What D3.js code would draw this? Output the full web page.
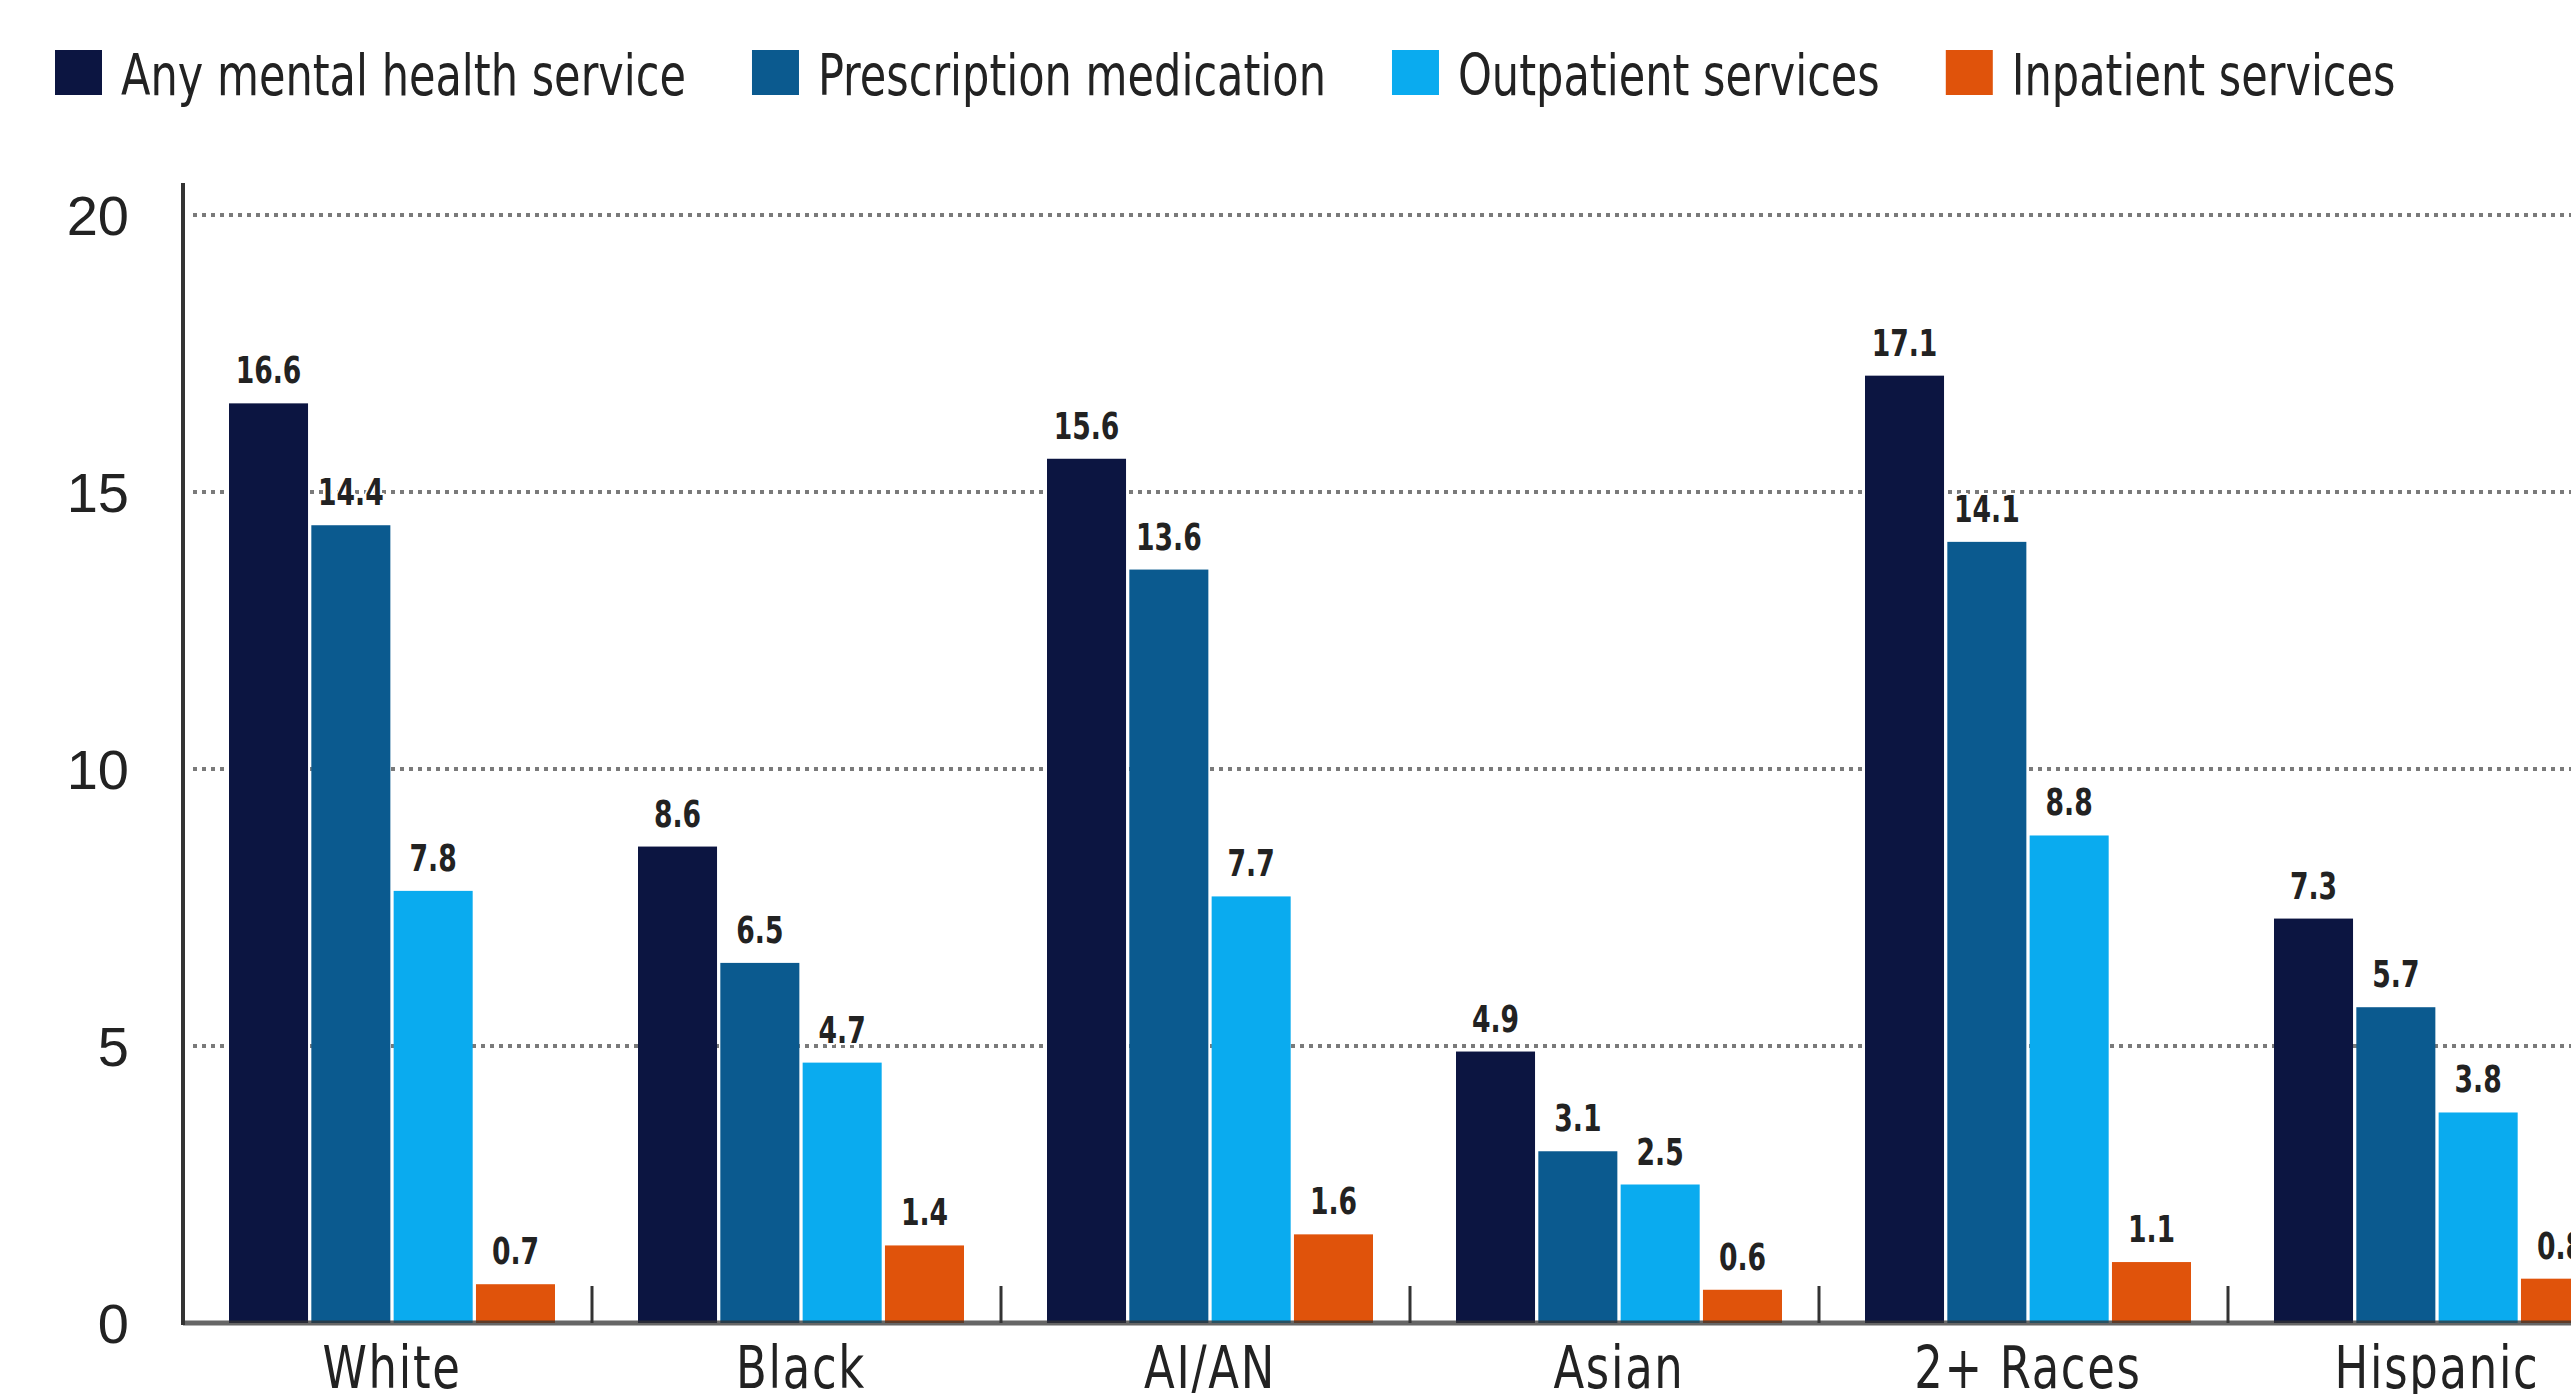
<!DOCTYPE html>
<head>
<script src="https://d3js.org/d3.v7.min.js"></script>
<meta charset="utf-8">
<style>
body { margin: 0; background: #fff; }
svg { display: block; overflow: hidden; }
text { fill: #222; }
</style>
</head>
<body>
<svg id="chart"></svg>
<script>

// data
var groups = ["White", "Black", "AI/AN", "Asian", "2+ Races", "Hispanic"];
var series = ["Any mental health service", "Prescription medication", "Outpatient services", "Inpatient services"];
var anyService   = [16.6, 8.6, 15.6, 4.9, 17.1, 7.3];
var prescription = [14.4, 6.5, 13.6, 3.1, 14.1, 5.7];
var outpatient   = [7.8, 4.7, 7.7, 2.5, 8.8, 3.8];
var inpatient    = [0.7, 1.4, 1.6, 0.6, 1.1, 0.8];
var yTicks = [0, 5, 10, 15, 20];
var colors = ["#0c1541", "#0b5a8f", "#0aabef", "#e0530b"];

var values = [anyService, prescription, outpatient, inpatient];

// chart parameters
var width = 2571,
    height = 1394,
    axisX = 183,
    baseY = 1323,
    topY = 215,
    band = 409,
    squeeze = 0.84;   // the original font is narrower than anything installed

var narrow = "'Liberation Sans Narrow', 'DejaVu Sans Condensed', 'Liberation Sans', sans-serif";

var svg = d3.select("#chart")
    .attr("width", width)
    .attr("height", height);

// squeeze a text sideways, keeping its height
function condense(sel, k) {
    sel.each(function() {
        var w = this.getComputedTextLength();
        d3.select(this)
            .attr("textLength", w * k)
            .attr("lengthAdjust", "spacingAndGlyphs");
    });
}

var y = d3.scaleLinear().domain([0, 20]).range([baseY, topY]);
var x0 = d3.scaleBand().domain(groups).range([axisX, axisX + band * groups.length]);
var x1 = d3.scaleBand().domain(series).range([46, 372]).paddingInner(0.04);
var color = d3.scaleOrdinal().domain(series).range(colors);

// dotted gridlines
svg.append("g")
  .selectAll("line")
  .data(yTicks.filter(d => d > 0))
  .join("line")
    .attr("x1", axisX + 10)
    .attr("x2", width)
    .attr("y1", d => y(d))
    .attr("y2", d => y(d))
    .attr("stroke", "#7a7a7a")
    .attr("stroke-width", 4)
    .attr("stroke-dasharray", "4,5");

// y tick labels
svg.append("g")
  .selectAll("text")
  .data(yTicks)
  .join("text")
    .attr("x", 129)
    .attr("y", d => y(d))
    .attr("dy", "0.36em")
    .attr("text-anchor", "end")
    .style("font-family", "'Liberation Sans', sans-serif")
    .style("font-size", "56px")
    .text(d => d);

// bars
var rows = groups.map((g, i) => ({
    group: g,
    bars: series.map((s, j) => ({ series: s, value: values[j][i] }))
}));

var groupSel = svg.append("g")
  .selectAll("g")
  .data(rows)
  .join("g")
    .attr("transform", d => "translate(" + x0(d.group) + ",0)");

groupSel.selectAll("rect")
  .data(d => d.bars)
  .join("rect")
    .attr("x", d => x1(d.series))
    .attr("y", d => y(d.value))
    .attr("width", x1.bandwidth())
    .attr("height", d => y(0) - y(d.value))
    .attr("fill", d => color(d.series));

groupSel.selectAll("text.val")
  .data(d => d.bars)
  .join("text")
    .attr("class", "val")
    .attr("x", d => x1(d.series) + x1.bandwidth() / 2)
    .attr("y", d => y(d.value) - 20)
    .attr("text-anchor", "middle")
    .style("font-family", narrow)
    .style("font-size", "37px")
    .style("font-weight", "bold")
    .style("paint-order", "stroke")
    .style("stroke", "#fff")
    .style("stroke-width", "4px")
    .text(d => d.value.toFixed(1))
    .call(condense, 0.8);

// category labels
svg.append("g")
  .selectAll("text")
  .data(groups)
  .join("text")
    .attr("x", d => x0(d) + 46 + 163)
    .attr("y", 1388)
    .attr("text-anchor", "middle")
    .style("font-family", narrow)
    .style("font-size", "58px")
    .style("letter-spacing", "2px")
    .text(d => d)
    .call(condense, 0.86);

// axes
svg.append("line")
    .attr("x1", axisX).attr("x2", width)
    .attr("y1", baseY).attr("y2", baseY)
    .attr("stroke", "#333")
    .attr("stroke-opacity", 0.75)
    .attr("stroke-width", 5);

svg.append("line")
    .attr("x1", axisX).attr("x2", axisX)
    .attr("y1", 183).attr("y2", baseY + 2)
    .attr("stroke", "#333")
    .attr("stroke-width", 4);

svg.append("g")
  .selectAll("line")
  .data(groups.slice(1))
  .join("line")
    .attr("x1", d => x0(d))
    .attr("x2", d => x0(d))
    .attr("y1", baseY)
    .attr("y2", baseY - 37)
    .attr("stroke", "#333")
    .attr("stroke-width", 3);

// legend
var legend = svg.append("g");
var lx = 55;
series.forEach((s, i) => {
    legend.append("rect")
        .attr("x", lx)
        .attr("y", 50)
        .attr("width", 47)
        .attr("height", 45)
        .attr("fill", colors[i]);
    var t = legend.append("text")
        .attr("x", lx + 66)
        .attr("y", 95)
        .style("font-family", narrow)
        .style("font-size", "57px")
        .text(s)
        .call(condense, squeeze);
    lx += 66 + (+t.attr("textLength")) + 66;
});

</script>
</body>
